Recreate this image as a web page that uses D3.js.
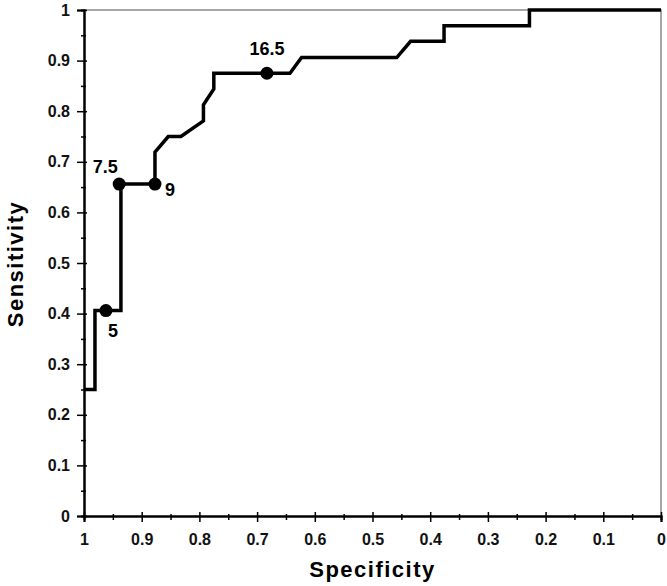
<!DOCTYPE html>
<html>
<head>
<meta charset="utf-8">
<script src="https://cdn.jsdelivr.net/npm/d3@7"></script>
<style>
  body { margin: 0; background: #fff; }
  text { font-family: "Liberation Sans", Arial, sans-serif; }
</style>
</head>
<body>
<div id="roc-chart"></div>
<script>
// ROC curve vertices (specificity, sensitivity)
const specificity = [1, 0.981, 0.981, 0.936, 0.936, 0.877, 0.877, 0.854, 0.832, 0.793, 0.793, 0.775, 0.775,
  0.643, 0.623, 0.458, 0.434, 0.376, 0.376, 0.228, 0.228, 0];
const sensitivity = [0.25, 0.25, 0.406, 0.406, 0.656, 0.656, 0.719, 0.75, 0.75, 0.781, 0.8125, 0.844, 0.875,
  0.875, 0.906, 0.906, 0.938, 0.938, 0.969, 0.969, 1, 1];

// cut-off points marked on the curve
const cutLabels = ['5', '7.5', '9', '16.5'];
const cutSpec = [0.962, 0.939, 0.877, 0.683];
const cutSens = [0.406, 0.656, 0.656, 0.875];
const labelOffset = [[7, 26], [-14, -11], [15, 12], [0, -18]];

const majorTicks = [0, 0.1, 0.2, 0.3, 0.4, 0.5, 0.6, 0.7, 0.8, 0.9, 1];
const minorTicks = [0.05, 0.15, 0.25, 0.35, 0.45, 0.55, 0.65, 0.75, 0.85, 0.95];

const margin = { top: 10, right: 6, bottom: 70, left: 84 };
const width = 667 - margin.left - margin.right;
const height = 586 - margin.top - margin.bottom;

const root = d3.select('#roc-chart')
  .append('svg')
  .attr('width', 667)
  .attr('height', 586);

const svg = root.append('g')
  .attr('transform', `translate(${margin.left},${margin.top})`);

const x = d3.scaleLinear().domain([1, 0]).range([0, width]);
const y = d3.scaleLinear().domain([0, 1]).range([height, 0]);

// top and right frame
svg.append('path')
  .attr('d', `M0,0H${width}V${height}`)
  .attr('fill', 'none')
  .attr('stroke', '#8a8a8a')
  .attr('stroke-width', 1.5);

// X axis
const xMinor = svg.append('g')
  .attr('transform', `translate(0,${height})`)
  .call(d3.axisBottom(x).tickValues(minorTicks).tickSize(4).tickFormat(''));
xMinor.selectAll('.tick line').attr('y1', -2);

const xAxis = svg.append('g')
  .attr('transform', `translate(0,${height})`)
  .call(d3.axisBottom(x).tickValues(majorTicks).tickSize(6).tickPadding(12).tickFormat(d3.format('~g')));
xAxis.selectAll('.tick line').attr('y1', -4);
xAxis.selectAll('text')
  .style('font-size', '16px')
  .style('font-weight', 'bold')
  .attr('fill', '#111');

// Y axis
const yMinor = svg.append('g')
  .call(d3.axisLeft(y).tickValues(minorTicks).tickSize(3).tickFormat(''));
yMinor.selectAll('.tick line').attr('x1', 2);

const yAxis = svg.append('g')
  .call(d3.axisLeft(y).tickValues(majorTicks).tickSize(7).tickPadding(7).tickFormat(d3.format('~g')));
yAxis.selectAll('.tick line').attr('x1', 3);
yAxis.selectAll('text')
  .style('font-size', '16px')
  .style('font-weight', 'bold')
  .attr('fill', '#111');

[xMinor, xAxis, yMinor, yAxis].forEach(a => {
  a.selectAll('.domain').attr('stroke', '#000').attr('stroke-width', 2);
  a.selectAll('.tick line').attr('stroke', '#000').attr('stroke-width', 1.5);
});

// curve
const pts = specificity.map((s, i) => [s, sensitivity[i]]);
const line = d3.line()
  .x(d => x(d[0]))
  .y(d => y(d[1]));

svg.append('path')
  .datum(pts)
  .attr('fill', 'none')
  .attr('stroke', '#000')
  .attr('stroke-width', 3.5)
  .attr('stroke-linejoin', 'miter')
  .attr('d', line);

// cut-off markers
svg.selectAll('.dot')
  .data(cutLabels)
  .enter()
  .append('circle')
  .attr('class', 'dot')
  .attr('cx', (d, i) => x(cutSpec[i]))
  .attr('cy', (d, i) => y(cutSens[i]))
  .attr('r', 6.5)
  .attr('fill', '#000');

svg.selectAll('.cut-label')
  .data(cutLabels)
  .enter()
  .append('text')
  .attr('class', 'cut-label')
  .attr('x', (d, i) => x(cutSpec[i]) + labelOffset[i][0])
  .attr('y', (d, i) => y(cutSens[i]) + labelOffset[i][1])
  .attr('text-anchor', 'middle')
  .style('font-size', '18px')
  .style('font-weight', 'bold')
  .text(d => d);

// axis titles
svg.append('text')
  .attr('x', width / 2)
  .attr('y', height + 61)
  .attr('text-anchor', 'middle')
  .style('font-size', '22px')
  .style('font-weight', 'bold')
  .style('letter-spacing', '1.5px')
  .text('Specificity');

svg.append('text')
  .attr('transform', `translate(${-margin.left + 23},${height / 2 + 1}) rotate(-90)`)
  .attr('text-anchor', 'middle')
  .style('font-size', '22px')
  .style('font-weight', 'bold')
  .style('letter-spacing', '1.5px')
  .text('Sensitivity');
</script>
</body>
</html>
